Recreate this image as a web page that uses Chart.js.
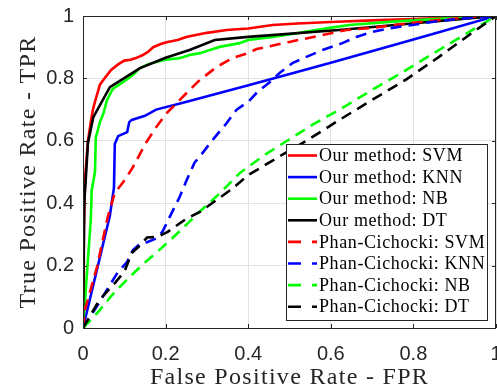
<!DOCTYPE html>
<html>
<head>
<meta charset="utf-8">
<script src="https://cdn.jsdelivr.net/npm/chart.js@4.4.1/dist/chart.umd.min.js"></script>
<style>
  html, body { margin: 0; padding: 0; background: #fff; }
  #wrap { width: 497px; height: 387px; }
</style>
</head>
<body>
<div id="wrap"><canvas id="roc"></canvas></div>
<script>
// ROC curves, false positive rate (x) against true positive rate (y)
const oursSvmFpr = [0, 0.002, 0.005, 0.012, 0.02, 0.024, 0.03, 0.041, 0.055, 0.068, 0.085, 0.1, 0.115, 0.128, 0.145, 0.157, 0.17, 0.188, 0.205, 0.229, 0.25, 0.273, 0.3, 0.348, 0.4, 0.459, 0.52, 0.6, 0.7, 0.8, 0.9, 1];
const oursSvmTpr = [0, 0.3, 0.48, 0.6, 0.67, 0.7, 0.73, 0.78, 0.805, 0.827, 0.845, 0.857, 0.86, 0.865, 0.875, 0.885, 0.9, 0.91, 0.917, 0.923, 0.933, 0.939, 0.946, 0.955, 0.96, 0.971, 0.976, 0.981, 0.986, 0.99, 0.995, 1];

const oursKnnFpr = [0, 0.065, 0.075, 0.077, 0.085, 0.107, 0.112, 0.118, 0.15, 0.177, 0.242, 0.403, 0.6, 0.8, 1];
const oursKnnTpr = [0, 0.36, 0.45, 0.59, 0.615, 0.628, 0.66, 0.667, 0.68, 0.7, 0.722, 0.779, 0.85, 0.925, 1];

const oursNbFpr = [0, 0.005, 0.019, 0.021, 0.029, 0.031, 0.041, 0.05, 0.058, 0.072, 0.097, 0.12, 0.138, 0.157, 0.179, 0.2, 0.234, 0.258, 0.283, 0.307, 0.331, 0.379, 0.4, 0.459, 0.52, 0.597, 0.645, 0.75, 0.85, 1];
const oursNbTpr = [0, 0.09, 0.35, 0.44, 0.5, 0.61, 0.66, 0.69, 0.73, 0.766, 0.788, 0.81, 0.833, 0.845, 0.853, 0.86, 0.865, 0.875, 0.881, 0.891, 0.901, 0.913, 0.923, 0.933, 0.945, 0.962, 0.971, 0.982, 0.99, 1];

const oursDtFpr = [0, 0.003, 0.007, 0.012, 0.025, 0.065, 0.138, 0.2, 0.258, 0.319, 0.4, 0.62, 1];
const oursDtTpr = [0, 0.4, 0.484, 0.593, 0.676, 0.772, 0.833, 0.866, 0.891, 0.923, 0.933, 0.955, 1];

const phanSvmFpr = [0, 0.005, 0.034, 0.06, 0.077, 0.101, 0.121, 0.152, 0.181, 0.205, 0.227, 0.258, 0.283, 0.324, 0.362, 0.4, 0.42, 0.5, 0.58, 0.638, 0.7, 0.797, 0.862, 0.942, 1];
const phanSvmTpr = [0, 0.06, 0.196, 0.356, 0.433, 0.474, 0.516, 0.593, 0.651, 0.692, 0.721, 0.763, 0.795, 0.837, 0.865, 0.881, 0.894, 0.917, 0.939, 0.955, 0.962, 0.978, 0.987, 0.997, 1];

const phanKnnFpr = [0, 0.034, 0.065, 0.085, 0.106, 0.121, 0.138, 0.155, 0.179, 0.193, 0.21, 0.234, 0.251, 0.27, 0.283, 0.314, 0.348, 0.372, 0.4, 0.42, 0.452, 0.476, 0.507, 0.541, 0.58, 0.628, 0.662, 0.7, 0.749, 0.797, 0.845, 0.903, 1];
const phanKnnTpr = [0, 0.07, 0.138, 0.18, 0.21, 0.25, 0.27, 0.275, 0.288, 0.31, 0.356, 0.42, 0.474, 0.53, 0.55, 0.603, 0.657, 0.7, 0.725, 0.753, 0.788, 0.817, 0.849, 0.869, 0.891, 0.913, 0.933, 0.949, 0.962, 0.971, 0.981, 0.99, 1];

const phanNbFpr = [0, 0.036, 0.07, 0.11, 0.15, 0.19, 0.234, 0.28, 0.33, 0.38, 0.44, 0.5, 0.56, 0.621, 0.7, 0.78, 0.862, 0.94, 1];
const phanNbTpr = [0, 0.05, 0.105, 0.16, 0.21, 0.256, 0.31, 0.37, 0.43, 0.497, 0.555, 0.605, 0.655, 0.7, 0.763, 0.825, 0.891, 0.953, 1];

const phanDtFpr = [0, 0.04, 0.077, 0.1, 0.118, 0.138, 0.155, 0.18, 0.205, 0.25, 0.283, 0.36, 0.4, 0.476, 0.541, 0.621, 0.7, 0.783, 0.862, 0.942, 1];
const phanDtTpr = [0, 0.09, 0.144, 0.18, 0.24, 0.265, 0.29, 0.292, 0.308, 0.35, 0.372, 0.445, 0.49, 0.55, 0.6, 0.667, 0.731, 0.797, 0.869, 0.946, 1];

const seriesNames = [
  "Our method: SVM", "Our method: KNN", "Our method: NB", "Our method: DT",
  "Phan-Cichocki: SVM", "Phan-Cichocki: KNN", "Phan-Cichocki: NB", "Phan-Cichocki: DT"
];
const seriesColors = ["#ff0000", "#0000ff", "#00ff00", "#000000", "#ff0000", "#0000ff", "#00ff00", "#000000"];
const seriesDashed = [false, false, false, false, true, true, true, true];

const tickValues = [0, 0.2, 0.4, 0.6, 0.8, 1];
const tickLabels = ["0", "0.2", "0.4", "0.6", "0.8", "1"];

const xTitle = "False Positive Rate - FPR";
const yTitle = "True Positive Rate - TPR";

const curves = [
  [oursSvmFpr, oursSvmTpr], [oursKnnFpr, oursKnnTpr], [oursNbFpr, oursNbTpr], [oursDtFpr, oursDtTpr],
  [phanSvmFpr, phanSvmTpr], [phanKnnFpr, phanKnnTpr], [phanNbFpr, phanNbTpr], [phanDtFpr, phanDtTpr]
];

const LINE_W = 2.6;
const DASH = [11, 7];
const AXIS_COLOR = "#262626";
const serif = "'Liberation Serif', 'Times New Roman', serif";

const datasets = curves.map(([fpr, tpr], i) => ({
  label: seriesNames[i],
  data: fpr.map((x, k) => ({ x: x, y: tpr[k] })),
  borderColor: seriesColors[i],
  borderWidth: LINE_W,
  borderDash: seriesDashed[i] ? DASH : [],
  pointRadius: 0,
  showLine: true,
  fill: false,
  tension: 0,
  // later curves sit on top
  order: curves.length - i
}));

function labelFor(v) {
  let i = tickValues.findIndex(t => Math.abs(t - v) < 1e-6);
  return i >= 0 ? tickLabels[i] : "";
}

// box, inward ticks, axis titles and the legend
const frame = {
  id: "frame",
  afterDraw(chart) {
    const ctx = chart.ctx;
    const ca = chart.chartArea;
    const xs = chart.scales.x, ys = chart.scales.y;
    ctx.save();

    ctx.strokeStyle = AXIS_COLOR;
    ctx.lineWidth = 1;
    ctx.setLineDash([]);
    ctx.strokeRect(Math.round(ca.left) + 0.5, Math.round(ca.top) + 0.5,
      Math.round(ca.right - ca.left) - 1, Math.round(ca.bottom - ca.top));

    ctx.beginPath();
    tickValues.forEach(v => {
      let px = Math.round(xs.getPixelForValue(v)) + 0.5;
      let py = Math.round(ys.getPixelForValue(v)) + 0.5;
      ctx.moveTo(px, ca.bottom); ctx.lineTo(px, ca.bottom - 4);
      ctx.moveTo(px, ca.top); ctx.lineTo(px, ca.top + 4);
      ctx.moveTo(ca.left, py); ctx.lineTo(ca.left + 4, py);
      ctx.moveTo(ca.right, py); ctx.lineTo(ca.right - 4, py);
    });
    ctx.stroke();

    // axis titles
    ctx.fillStyle = AXIS_COLOR;
    ctx.font = "24px " + serif;
    ctx.letterSpacing = "1.3px";
    ctx.textAlign = "center";
    ctx.textBaseline = "alphabetic";
    ctx.fillText(xTitle, (ca.left + ca.right) / 2, 384);
    ctx.save();
    ctx.translate(35, (ca.top + ca.bottom) / 2);
    ctx.rotate(-Math.PI / 2);
    ctx.fillText(yTitle, 0, 0);
    ctx.restore();

    // legend
    const lw = 201, lh = 176;
    const lx = Math.round(ca.right) - 9 - lw, ly = Math.round(ca.bottom) - 8 - lh;
    ctx.fillStyle = "#ffffff";
    ctx.fillRect(lx, ly, lw, lh);
    ctx.strokeStyle = AXIS_COLOR;
    ctx.lineWidth = 1;
    ctx.strokeRect(lx + 0.5, ly + 0.5, lw, lh);

    ctx.font = "18px " + serif;
    ctx.letterSpacing = "0.6px";
    ctx.textAlign = "left";
    ctx.textBaseline = "middle";
    seriesNames.forEach((name, i) => {
      let cy = ly + 11.5 + i * 21.6;
      ctx.beginPath();
      ctx.strokeStyle = seriesColors[i];
      ctx.lineWidth = LINE_W;
      ctx.setLineDash(seriesDashed[i] ? [13, 11] : []);
      ctx.moveTo(lx + 2, cy);
      ctx.lineTo(lx + 31, cy);
      ctx.stroke();
      ctx.fillStyle = "#000000";
      ctx.fillText(name, lx + 33, cy + 1);
    });
    ctx.restore();
  }
};

const tickFont = { family: "'Liberation Sans', Arial, sans-serif", size: 20 };

new Chart(document.getElementById("roc"), {
  type: "scatter",
  data: { datasets: datasets },
  options: {
    responsive: true,
    maintainAspectRatio: false,
    animation: false,
    devicePixelRatio: 1,
    layout: { padding: { top: 16, right: 1, left: 0, bottom: 0 } },
    plugins: {
      legend: { display: false },
      tooltip: { enabled: false }
    },
    scales: {
      x: {
        type: "linear",
        min: 0,
        max: 1,
        afterBuildTicks: s => { s.ticks = tickValues.map(v => ({ value: v })); },
        afterFit: s => { s.height = 59; s.paddingLeft = 0; s.paddingRight = 0; },
        ticks: { callback: labelFor, font: tickFont, color: AXIS_COLOR, padding: 14, maxRotation: 0, autoSkip: false },
        grid: { color: "#e3e3e3", lineWidth: 1, drawTicks: false },
        border: { display: false }
      },
      y: {
        type: "linear",
        min: 0,
        max: 1,
        afterBuildTicks: s => { s.ticks = tickValues.map(v => ({ value: v })); },
        afterFit: s => { s.width = 83; s.paddingTop = 0; s.paddingBottom = 0; },
        ticks: { callback: labelFor, font: tickFont, color: AXIS_COLOR, padding: 9, autoSkip: false },
        grid: { color: "#e3e3e3", lineWidth: 1, drawTicks: false },
        border: { display: false }
      }
    }
  },
  plugins: [frame]
});
</script>
</body>
</html>
